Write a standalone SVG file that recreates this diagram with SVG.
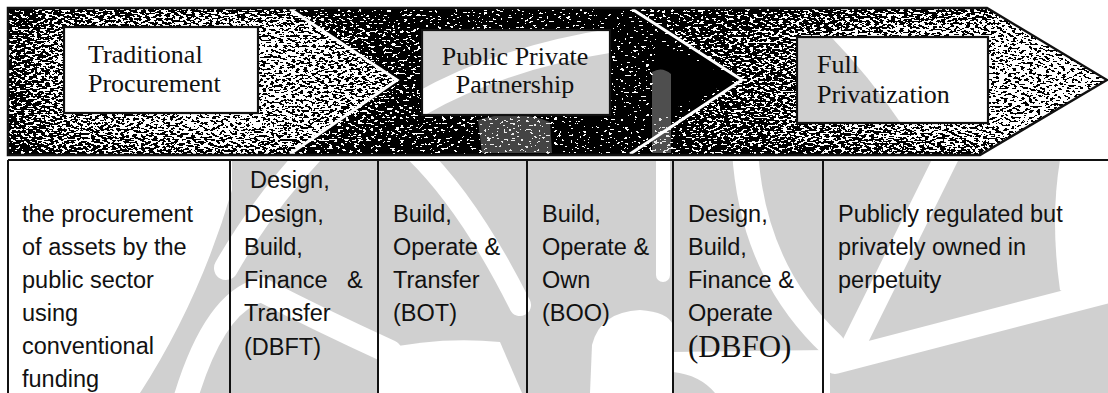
<svg xmlns="http://www.w3.org/2000/svg" width="1108" height="393" viewBox="0 0 1108 393">
  <style>
    .hd { font-family: "Liberation Serif", "Times New Roman", serif; font-size: 26px; fill: #111; }
    .bd { font-family: "Liberation Sans", Arial, sans-serif; font-size: 23.5px; fill: #111; }
    .big { font-family: "Liberation Serif", "Times New Roman", serif; font-size: 31px; fill: #111; }
    .frame { fill: none; stroke: #111; stroke-width: 2.2; }
    .rule { stroke: #111; stroke-width: 2; fill: none; }
    .sep { fill: none; stroke: #fff; stroke-width: 3; stroke-linejoin: miter; }
    .seal { fill: #d0d0d0; }
    .gap { fill: none; stroke: #000; stroke-linecap: round; }
    .void { fill: #000; }
  </style>
  <defs>
    <!-- halftone grain: lightness of the fill sets the share of white dots -->
    <filter id="grain" filterUnits="userSpaceOnUse" x="0" y="0" width="1108" height="165" color-interpolation-filters="sRGB">
      <feTurbulence type="fractalNoise" baseFrequency="0.24 0.48" numOctaves="2" seed="7" result="noise"/>
      <feColorMatrix in="noise" type="matrix" values="2.6 0 0 0 -0.8  2.6 0 0 0 -0.8  2.6 0 0 0 -0.8  0 0 0 0 1" result="spread"/>
      <feComposite in="SourceGraphic" in2="spread" operator="arithmetic" k1="0" k2="1" k3="1" k4="-0.5" result="sum"/>
      <feComponentTransfer in="sum" result="bw">
        <feFuncR type="discrete" tableValues="0 1"/>
        <feFuncG type="discrete" tableValues="0 1"/>
        <feFuncB type="discrete" tableValues="0 1"/>
      </feComponentTransfer>
      <feComposite in="bw" in2="SourceAlpha" operator="in"/>
    </filter>
    <linearGradient id="g1" gradientUnits="userSpaceOnUse" x1="8" y1="0" x2="397" y2="0">
      <stop offset="0" stop-color="#4a4a4a"/>
      <stop offset="0.12" stop-color="#7c7c7c"/>
      <stop offset="0.55" stop-color="#a4a4a4"/>
      <stop offset="0.8" stop-color="#969696"/>
      <stop offset="1" stop-color="#808080"/>
    </linearGradient>
    <linearGradient id="g2" gradientUnits="userSpaceOnUse" x1="290" y1="0" x2="742" y2="0">
      <stop offset="0" stop-color="#5e5e5e"/>
      <stop offset="0.25" stop-color="#2a2a2a"/>
      <stop offset="0.55" stop-color="#161616"/>
      <stop offset="1" stop-color="#000"/>
    </linearGradient>
    <linearGradient id="g3" gradientUnits="userSpaceOnUse" x1="632" y1="0" x2="1107" y2="0">
      <stop offset="0" stop-color="#383838"/>
      <stop offset="0.25" stop-color="#5c5c5c"/>
      <stop offset="0.55" stop-color="#8c8c8c"/>
      <stop offset="1" stop-color="#b8b8b8"/>
    </linearGradient>
    <linearGradient id="gv" gradientUnits="userSpaceOnUse" x1="0" y1="8" x2="0" y2="155">
      <stop offset="0" stop-color="#000" stop-opacity="0.4"/>
      <stop offset="0.16" stop-color="#000" stop-opacity="0"/>
      <stop offset="0.82" stop-color="#000" stop-opacity="0"/>
      <stop offset="1" stop-color="#000" stop-opacity="0.3"/>
    </linearGradient>

    <!-- light bands that run through the grey seal -->
    <mask id="sealGaps" maskUnits="userSpaceOnUse" x="0" y="0" width="1108" height="393">
      <rect x="0" y="0" width="1108" height="393" fill="#fff"/>
      <rect x="0" y="0" width="1108" height="160" fill="#000"/>
      <path class="gap" stroke-width="24" d="M312,152 Q262,205 226,268"/>
      <path class="gap" stroke-width="24" d="M185,400 Q215,300 262,290 Q320,320 390,352"/>
      <path class="gap" stroke-width="22" d="M416,152 Q470,205 520,305"/>
      <path class="void" d="M378,350 Q440,336 500,342 L522,393 L378,393 Z"/>
      <path class="gap" stroke-width="14" d="M663,150 L663,275"/>
      <path class="void" d="M590,393 L592,345 Q600,312 640,310 Q668,312 673,325 L673,393 Z"/>
      <path class="gap" stroke-width="26" d="M745,150 Q752,270 832,345"/>
      <path class="void" d="M673,352 L830,350 L830,393 L715,393 Q700,375 673,372 Z"/>
      <path class="gap" stroke-width="24" d="M950,150 Q900,250 850,352"/>
      <path class="void" d="M1060,160 L1108,160 L1108,300 Q1075,300 1060,290 Q1050,220 1060,160 Z"/>
      <path class="gap" stroke-width="24" d="M835,362 Q960,330 1112,290"/>
    </mask>
    <mask id="boxGaps" maskUnits="userSpaceOnUse" x="0" y="0" width="1108" height="160">
      <rect x="0" y="0" width="1108" height="160" fill="#fff"/>
      <path class="gap" stroke-width="24" d="M420,104 Q500,58 615,40"/>
    </mask>
  </defs>

  <rect width="1108" height="393" fill="#fff"/>

  <!-- three-stage arrow band -->
  <g id="arrow-band">
    <g filter="url(#grain)">
      <polygon points="8,8 290,8 397,80 290,155 8,155" fill="url(#g1)"/>
      <polygon points="290,8 632,8 742,80 630,155 290,155 397,80" fill="url(#g2)"/>
      <polygon points="632,8 987,8 1107,80 980,155 630,155 742,80" fill="url(#g3)"/>
      <path d="M8,8 H987 L1107,80 L980,155 H8 Z" fill="url(#gv)"/>
    </g>
    <polygon points="655,40 735,80 655,118" fill="#000"/>
    <!-- seal showing faintly through the dark middle band -->
    <path d="M652,72 Q662,66 671,74 L671,153 L652,153 Z" fill="#c4c4c4" opacity="0.4"/>
    <path d="M478,120 Q515,108 550,122 L552,153 L482,153 Z" fill="#c4c4c4" opacity="0.35"/>
  </g>

  <g id="connectors">
    <polyline class="sep" points="290,9 397,80 290,154"/>
    <polyline class="sep" points="632,9 742,80 630,154"/>
    <path d="M8,8 H987 L1107,80 L980,155 H8 Z" fill="none" stroke="#111" stroke-width="2.5"/>
  </g>

  <!-- stage box grounds -->
  <rect x="64" y="27" width="194" height="86" fill="#fff"/>
  <rect x="422" y="30" width="188" height="85" fill="#fff"/>
  <rect x="797" y="37" width="191" height="86" fill="#fff"/>

  <!-- background seal, light grey -->
  <g id="watermark">
    <rect class="seal" x="423" y="31" width="186" height="83" mask="url(#boxGaps)"/>
    <path class="seal" d="M798,38 L832,38 Q868,75 900,122 L798,122 Z"/>
    <path class="seal" d="M232,161 L1108,161 L1108,393 L140,393 Q200,300 232,190 Z" mask="url(#sealGaps)"/>
  </g>

  <!-- stage boxes (outline and labels) -->
  <g id="stage-traditional">
    <rect class="frame" x="64" y="27" width="194" height="86"/>
    <text class="hd" x="88" y="63">Traditional</text>
    <text class="hd" x="88" y="92">Procurement</text>
  </g>
  <g id="stage-ppp">
    <rect class="frame" x="422" y="30" width="188" height="85"/>
    <text class="hd" x="515" y="65" text-anchor="middle">Public Private</text>
    <text class="hd" x="515" y="93" text-anchor="middle">Partnership</text>
  </g>
  <g id="stage-privatization">
    <rect class="frame" x="797" y="37" width="191" height="86"/>
    <text class="hd" x="817" y="73">Full</text>
    <text class="hd" x="817" y="103">Privatization</text>
  </g>

  <!-- table of procurement models -->
  <g id="table-rules">
    <line class="rule" x1="8" y1="160" x2="1108" y2="160"/>
    <line class="rule" x1="8" y1="160" x2="8" y2="393"/>
    <line class="rule" x1="230" y1="160" x2="230" y2="393"/>
    <line class="rule" x1="378" y1="160" x2="378" y2="393"/>
    <line class="rule" x1="527" y1="160" x2="527" y2="393"/>
    <line class="rule" x1="673" y1="160" x2="673" y2="393"/>
    <line class="rule" x1="823" y1="160" x2="823" y2="393"/>
  </g>

  <g id="cell-conventional" class="bd">
    <text x="22" y="222">the procurement</text>
    <text x="22" y="255">of assets by the</text>
    <text x="22" y="288">public sector</text>
    <text x="22" y="321">using</text>
    <text x="22" y="354">conventional</text>
    <text x="22" y="387">funding</text>
  </g>
  <g id="cell-dbft" class="bd">
    <text x="250" y="188">Design,</text>
    <text x="244" y="222">Design,</text>
    <text x="244" y="255">Build,</text>
    <text x="244" y="288">Finance <tspan x="347">&amp;</tspan></text>
    <text x="244" y="321">Transfer</text>
    <text x="244" y="355">(DBFT)</text>
  </g>
  <g id="cell-bot" class="bd">
    <text x="393" y="222">Build,</text>
    <text x="393" y="255">Operate &amp;</text>
    <text x="393" y="288">Transfer</text>
    <text x="393" y="321">(BOT)</text>
  </g>
  <g id="cell-boo" class="bd">
    <text x="542" y="222">Build,</text>
    <text x="542" y="255">Operate &amp;</text>
    <text x="542" y="288">Own</text>
    <text x="542" y="321">(BOO)</text>
  </g>
  <g id="cell-dbfo">
    <text class="bd" x="688" y="222">Design,</text>
    <text class="bd" x="688" y="255">Build,</text>
    <text class="bd" x="688" y="288">Finance &amp;</text>
    <text class="bd" x="688" y="321">Operate</text>
    <text class="big" x="688" y="357">(DBFO)</text>
  </g>
  <g id="cell-privatized" class="bd">
    <text x="838" y="222">Publicly regulated but</text>
    <text x="838" y="255">privately owned in</text>
    <text x="838" y="288">perpetuity</text>
  </g>
</svg>
